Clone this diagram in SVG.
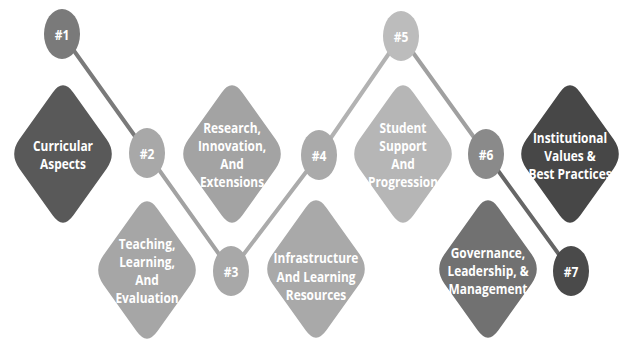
<svg xmlns="http://www.w3.org/2000/svg" xmlns:xlink="http://www.w3.org/1999/xlink" width="620" height="345" viewBox="0 0 620 345">
<defs>
<style>
.lbl{font-family:"Open Sans","Liberation Sans",sans-serif;font-weight:700;font-size:14px;fill:#ffffff;text-anchor:middle}
.num{font-family:"Open Sans","Liberation Sans",sans-serif;font-weight:700;font-size:15px;fill:#ffffff;text-anchor:middle}
.con{stroke-width:4;stroke-linecap:round;fill:none}
</style>
<path id="dia" d="M-10.4,-61.3 Q0,-76 10.4,-61.3 L43.6,-14.7 Q54,0 43.6,14.7 L10.4,61.3 Q0,76 -10.4,61.3 L-43.6,14.7 Q-54,0 -43.6,-14.7 Z"/>
</defs>
<rect width="620" height="345" fill="#ffffff"/>
<g id="connectors">
<line class="con" x1="62" y1="34" x2="147" y2="153" stroke="#7a7a7a"/>
<line class="con" x1="147" y1="153" x2="231" y2="271" stroke="#a2a2a2"/>
<line class="con" x1="231" y1="271" x2="319" y2="155" stroke="#ababab"/>
<line class="con" x1="319" y1="155" x2="401" y2="36" stroke="#b2b2b2"/>
<line class="con" x1="401" y1="36" x2="486" y2="154" stroke="#a0a0a0"/>
<line class="con" x1="486" y1="154" x2="571" y2="271" stroke="#666666"/>
</g>
<g id="curricular">
<use xlink:href="#dia" href="#dia" x="63" y="154" fill="#595959"/>
<g transform="translate(63,154) scale(0.85,1)"><text class="lbl" y="-3">Curricular</text><text class="lbl" y="15">Aspects</text></g>
</g>
<g id="research">
<use xlink:href="#dia" href="#dia" x="232" y="154" fill="#a3a3a3"/>
<g transform="translate(232,154) scale(0.85,1)"><text class="lbl" y="-21">Research,</text><text class="lbl" y="-3">Innovation,</text><text class="lbl" y="15">And</text><text class="lbl" y="33">Extensions</text></g>
</g>
<g id="teaching">
<use xlink:href="#dia" href="#dia" x="147" y="270" fill="#a6a6a6"/>
<g transform="translate(147,270) scale(0.85,1)"><text class="lbl" y="-21">Teaching,</text><text class="lbl" y="-3">Learning,</text><text class="lbl" y="15">And</text><text class="lbl" y="33">Evaluation</text></g>
</g>
<g id="infrastructure">
<use xlink:href="#dia" href="#dia" x="316" y="269" fill="#a9a9a9"/>
<g transform="translate(316,269) scale(0.85,1)"><text class="lbl" y="-6">Infrastructure</text><text class="lbl" y="13">And Learning</text><text class="lbl" y="31">Resources</text></g>
</g>
<g id="student">
<use xlink:href="#dia" href="#dia" x="403" y="154" fill="#b6b6b6"/>
<g transform="translate(403,154) scale(0.85,1)"><text class="lbl" y="-21">Student</text><text class="lbl" y="-3">Support</text><text class="lbl" y="15">And</text><text class="lbl" y="33">Progression</text></g>
</g>
<g id="institutional">
<use xlink:href="#dia" href="#dia" x="570" y="154" fill="#474747"/>
<g transform="translate(570,154) scale(0.85,1)"><text class="lbl" y="-11">Institutional</text><text class="lbl" y="7">Values &amp;</text><text class="lbl" y="25">Best Practices</text></g>
</g>
<g id="governance">
<use xlink:href="#dia" href="#dia" x="488" y="269" fill="#717171"/>
<g transform="translate(488,269) scale(0.85,1)"><text class="lbl" y="-11">Governance,</text><text class="lbl" y="7">Leadership, &amp;</text><text class="lbl" y="25">Management</text></g>
</g>
<g id="n1"><ellipse cx="62" cy="34" rx="18" ry="25" fill="#7a7a7a"/><g transform="translate(62,40) scale(0.8,1)"><text class="num">#1</text></g></g>
<g id="n2"><ellipse cx="147" cy="153" rx="18" ry="25" fill="#a8a8a8"/><g transform="translate(147,159) scale(0.8,1)"><text class="num">#2</text></g></g>
<g id="n3"><ellipse cx="231" cy="271" rx="18" ry="25" fill="#a8a8a8"/><g transform="translate(231,277) scale(0.8,1)"><text class="num">#3</text></g></g>
<g id="n4"><ellipse cx="319" cy="155" rx="18" ry="25" fill="#aaaaaa"/><g transform="translate(319,161) scale(0.8,1)"><text class="num">#4</text></g></g>
<g id="n5"><ellipse cx="401" cy="36" rx="18" ry="25" fill="#bcbcbc"/><g transform="translate(401,42) scale(0.8,1)"><text class="num">#5</text></g></g>
<g id="n6"><ellipse cx="486" cy="154" rx="18" ry="25" fill="#8a8a8a"/><g transform="translate(486,160) scale(0.8,1)"><text class="num">#6</text></g></g>
<g id="n7"><ellipse cx="571" cy="271" rx="18" ry="25" fill="#4a4a4a"/><g transform="translate(571,277) scale(0.8,1)"><text class="num">#7</text></g></g>
</svg>
